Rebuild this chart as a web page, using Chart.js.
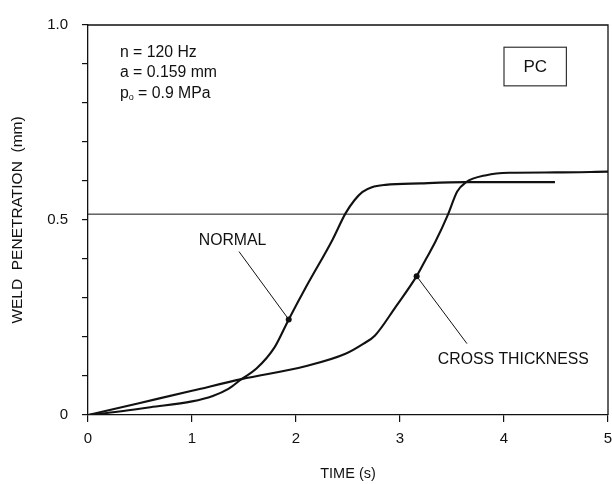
<!DOCTYPE html>
<html>
<head>
<meta charset="utf-8">
<script src="https://cdn.jsdelivr.net/npm/chart.js@4/dist/chart.umd.min.js"></script>
<style>
html,body{margin:0;padding:0;background:#fff;}
#wrap{width:612px;height:484px;}
</style>
</head>
<body>
<div id="wrap"><canvas id="c" width="612" height="484"></canvas></div>
<script>
// ---- data ----
const normalTime = [0, 0.3, 0.6, 1.0, 1.2, 1.35, 1.475, 1.62, 1.795, 1.93, 2.1, 2.35, 2.476, 2.56, 2.64, 2.73, 2.86, 3.2, 3.63, 4.0, 4.49];
const normalPen  = [0, 0.009, 0.02, 0.035, 0.049, 0.067, 0.092, 0.119, 0.174, 0.245, 0.33, 0.449, 0.517, 0.55, 0.572, 0.584, 0.59, 0.594, 0.597, 0.597, 0.597];
const crossTime  = [0, 0.5, 1.0, 1.475, 2.09, 2.476, 2.65, 2.76, 2.96, 3.16, 3.25, 3.34, 3.46, 3.55, 3.63, 3.83, 4.05, 4.5, 5.0];
const crossPen   = [0, 0.031, 0.062, 0.092, 0.125, 0.157, 0.183, 0.204, 0.278, 0.356, 0.40, 0.444, 0.513, 0.573, 0.596, 0.615, 0.621, 0.622, 0.624];
const refLineTime = [0, 5];
const refLinePen  = [0.515, 0.515];
const markerTime = [1.93, 3.16];
const markerPen  = [0.245, 0.356];
const xTickLabels = ['0', '1', '2', '3', '4', '5'];
const yTickLabels = {0: '0', 5: '0.5', 10: '1.0'};
const infoLines = ['n = 120 Hz', 'a = 0.159 mm'];
const seriesLabels = ['NORMAL', 'CROSS THICKNESS'];

const toPts = (xs, ys) => xs.map((x, i) => ({x: x, y: ys[i]}));

const FONT = '"Liberation Sans", Arial, sans-serif';
const INK = '#111';

const annot = {
  id: 'annot',
  afterDatasetsDraw(chart) {
    const ctx = chart.ctx;
    const xs = chart.scales.x, ys = chart.scales.y;
    const X = v => xs.getPixelForValue(v), Y = v => ys.getPixelForValue(v);
    const ca = chart.chartArea;
    ctx.save();
    // top & right frame
    ctx.strokeStyle = INK;
    ctx.lineWidth = 1.3;
    ctx.beginPath();
    ctx.moveTo(ca.left, ca.top);
    ctx.lineTo(ca.right, ca.top);
    ctx.lineTo(ca.right, ca.bottom);
    ctx.stroke();
    // pointer lines
    ctx.lineWidth = 1;
    ctx.beginPath();
    ctx.moveTo(X(1.452), Y(0.419)); ctx.lineTo(X(markerTime[0]), Y(markerPen[0]));
    ctx.moveTo(X(3.644), Y(0.183)); ctx.lineTo(X(markerTime[1]), Y(markerPen[1]));
    ctx.stroke();
    // series labels
    ctx.fillStyle = INK;
    ctx.font = '15.8px ' + FONT;
    ctx.textAlign = 'center';
    ctx.textBaseline = 'middle';
    ctx.fillText(seriesLabels[0], X(1.39), Y(0.446));
    ctx.fillText(seriesLabels[1], X(4.09), Y(0.141));
    // info text
    ctx.textAlign = 'left';
    ctx.textBaseline = 'alphabetic';
    const lx = X(0.307);
    ctx.fillText(infoLines[0], lx, 57);
    ctx.fillText(infoLines[1], lx, 77);
    let px = lx;
    ctx.fillText('p', px, 98);
    px += ctx.measureText('p').width;
    ctx.font = '9px ' + FONT;
    ctx.fillText('o', px, 100);
    px += ctx.measureText('o').width;
    ctx.font = '15.8px ' + FONT;
    ctx.fillText(' = 0.9 MPa', px, 98);
    // PC box
    const bx0 = X(4.0), bx1 = X(4.6), by0 = Y(0.943), by1 = Y(0.844);
    ctx.lineWidth = 1.2;
    ctx.strokeStyle = '#333';
    ctx.strokeRect(bx0, by0, bx1 - bx0, by1 - by0);
    ctx.font = '17px ' + FONT;
    ctx.textAlign = 'center';
    ctx.textBaseline = 'middle';
    ctx.fillText('PC', (bx0 + bx1) / 2, (by0 + by1) / 2 + 1);
    ctx.restore();
  }
};

new Chart(document.getElementById('c'), {
  type: 'scatter',
  data: {
    datasets: [
      {label: 'NORMAL', data: toPts(normalTime, normalPen), showLine: true, borderColor: INK, borderWidth: 2.1, pointRadius: 0, cubicInterpolationMode: 'monotone', fill: false},
      {label: 'CROSS THICKNESS', data: toPts(crossTime, crossPen), showLine: true, borderColor: INK, borderWidth: 2.1, pointRadius: 0, cubicInterpolationMode: 'monotone', fill: false},
      {label: 'ref', data: toPts(refLineTime, refLinePen), showLine: true, borderColor: INK, borderWidth: 1, pointRadius: 0, fill: false},
      {label: 'markers', data: toPts(markerTime, markerPen), showLine: false, pointRadius: 3, pointBackgroundColor: INK, pointBorderColor: INK, pointBorderWidth: 0}
    ]
  },
  options: {
    responsive: false,
    animation: false,
    events: [],
    layout: {padding: {left: 0, top: 25, right: 1.5, bottom: 0}},
    plugins: {legend: {display: false}, tooltip: {enabled: false}},
    scales: {
      x: {
        type: 'linear', min: 0, max: 5,
        afterFit(s) { s.height = 69; s.paddingLeft = 0; s.paddingRight = 0; },
        ticks: {stepSize: 1, color: INK, font: {family: FONT, size: 15}, padding: 8, maxRotation: 0,
          callback: (v) => xTickLabels[Math.round(v)] ?? ''},
        grid: {display: true, drawOnChartArea: false, drawTicks: true, tickLength: 7, color: INK, lineWidth: 1.2},
        border: {display: true, color: INK, width: 1.3},
        title: {display: true, text: 'TIME (s)', color: INK, font: {family: FONT, size: 14.5}, padding: {top: 0, bottom: 1}}
      },
      y: {
        type: 'linear', min: 0, max: 1,
        afterFit(s) { s.width = 88; s.paddingTop = 0; s.paddingBottom = 0; },
        ticks: {stepSize: 0.1, color: INK, font: {family: FONT, size: 15}, padding: 14,
          callback: (v) => yTickLabels[Math.round(v * 10)] ?? ''},
        grid: {display: true, drawOnChartArea: false, drawTicks: true, tickLength: 6, color: INK, lineWidth: 1.2},
        border: {display: true, color: INK, width: 1.3},
        title: {display: true, text: 'WELD  PENETRATION  (mm)', color: INK, font: {family: FONT, size: 15.5}, padding: {top: 8, bottom: 0}}
      }
    }
  },
  plugins: [annot]
});
</script>
</body>
</html>
